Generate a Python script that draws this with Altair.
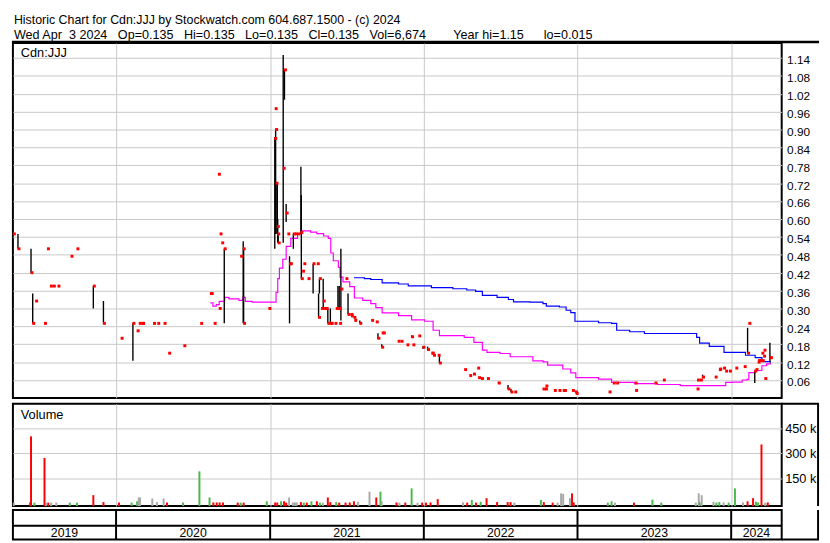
import altair as alt
import pandas as pd

FONT = "Liberation Sans"
NB = "\u00a0"

# ---------------- text ----------------
title_line1 = "Historic Chart for Cdn:JJJ by Stockwatch.com 604.687.1500 - (c) 2024"
title_fields = ["Wed Apr" + NB * 2 + "3 2024", "Op=0.135", "Hi=0.135", "Lo=0.135", "Cl=0.135", "Vol=6,674"]
title_line2a = (NB * 3).join(title_fields)
title_line2b = "Year hi=1.15"
title_line2c = "lo=0.015"
symbol_label = "Cdn:JJJ"
volume_label = "Volume"

# ---------------- daily prices (hi / lo / close) ----------------
price_dates = [
    "2019-05-02", "2019-05-13", "2019-06-13", "2019-06-17", "2019-06-24", "2019-07-15", "2019-07-22",
    "2019-07-29", "2019-08-05", "2019-08-16", "2019-09-16", "2019-09-30", "2019-11-08", "2019-12-02",
    "2020-01-13", "2020-02-10", "2020-02-20", "2020-02-25", "2020-03-02", "2020-03-04", "2020-03-30",
    "2020-04-09", "2020-04-24", "2020-05-05", "2020-06-10", "2020-07-20", "2020-08-12", "2020-08-14",
    "2020-08-21", "2020-08-31", "2020-09-02", "2020-09-04", "2020-09-08", "2020-09-14", "2020-10-23",
    "2020-10-29", "2020-10-30", "2020-12-29",
    "2021-01-12", "2021-01-13", "2021-01-14", "2021-01-15", "2021-01-18", "2021-01-19", "2021-01-20",
    "2021-02-01", "2021-02-04", "2021-02-08", "2021-02-12", "2021-02-16", "2021-02-18", "2021-02-25",
    "2021-03-02", "2021-03-08", "2021-03-15", "2021-03-16", "2021-03-19", "2021-03-22", "2021-04-01",
    "2021-04-13", "2021-04-23", "2021-04-26", "2021-04-28", "2021-05-03", "2021-05-07", "2021-05-10",
    "2021-05-14", "2021-05-18", "2021-05-24", "2021-05-26", "2021-06-04", "2021-06-07", "2021-06-11",
    "2021-06-14", "2021-06-15", "2021-06-18", "2021-06-30", "2021-07-05", "2021-07-12", "2021-07-13",
    "2021-07-19", "2021-07-21", "2021-08-02", "2021-08-30", "2021-09-10", "2021-09-14", "2021-09-23",
    "2021-09-24", "2021-09-27", "2021-11-01", "2021-11-08", "2021-11-22", "2021-12-03", "2021-12-06",
    "2021-12-20", "2021-12-30",
    "2022-01-10", "2022-01-20", "2022-01-21", "2022-01-24", "2022-02-04", "2022-02-07", "2022-04-08",
    "2022-04-20", "2022-04-29", "2022-05-09", "2022-05-11", "2022-05-18", "2022-06-01", "2022-06-27",
    "2022-07-20", "2022-07-27", "2022-08-05", "2022-10-11", "2022-10-17", "2022-10-18", "2022-11-07",
    "2022-11-18", "2022-11-28", "2022-12-01", "2022-12-20", "2022-12-27", "2022-12-29",
    "2023-03-17", "2023-03-27", "2023-04-04", "2023-05-18", "2023-05-19", "2023-07-04", "2023-07-24",
    "2023-10-12", "2023-10-13", "2023-10-20", "2023-10-25", "2023-11-24", "2023-12-04", "2023-12-05",
    "2023-12-14", "2023-12-19", "2023-12-28",
    "2024-01-12", "2024-02-01", "2024-02-09", "2024-02-12", "2024-02-26", "2024-02-29", "2024-03-05",
    "2024-03-06", "2024-03-08", "2024-03-14", "2024-03-15", "2024-03-18", "2024-03-19", "2024-03-21",
    "2024-04-02", "2024-04-03",
]
price_high = [
    0.55, 0.55, 0.50, 0.35, 0.325, 0.25, 0.50, 0.375, 0.375, 0.375, 0.475, 0.50, 0.375, 0.325,
    0.20, 0.25, 0.225, 0.25, 0.25, 0.25, 0.25, 0.25, 0.25, 0.15, 0.175, 0.25, 0.35, 0.35,
    0.25, 0.75, 0.30, 0.55, 0.52, 0.50, 0.475, 0.525, 0.50, 0.30,
    0.875, 0.97, 0.90, 0.72, 0.72, 0.60, 0.55, 1.15, 1.10, 0.65, 0.55, 0.475, 0.45, 0.55,
    0.55, 0.55, 0.775, 0.68, 0.425, 0.45, 0.40, 0.45, 0.45, 0.35, 0.40, 0.30, 0.40, 0.30,
    0.30, 0.30, 0.30, 0.25, 0.25, 0.30, 0.375, 0.375, 0.25, 0.50, 0.40, 0.35, 0.28, 0.275,
    0.27, 0.26, 0.26, 0.26, 0.255, 0.217, 0.18, 0.218, 0.218, 0.19, 0.19, 0.178, 0.21, 0.178,
    0.208, 0.173,
    0.172, 0.15, 0.15, 0.143, 0.143, 0.143, 0.095, 0.075, 0.08, 0.10, 0.068, 0.065, 0.065, 0.054,
    0.043, 0.03, 0.02, 0.03, 0.03, 0.04, 0.025, 0.025, 0.025, 0.025, 0.025, 0.02, 0.015,
    0.02, 0.05, 0.05, 0.05, 0.025, 0.05, 0.06, 0.03, 0.06, 0.06, 0.078, 0.07, 0.095, 0.097,
    0.10, 0.09, 0.09,
    0.10, 0.105, 0.235, 0.25, 0.09, 0.095, 0.12, 0.125, 0.125, 0.15, 0.125, 0.14, 0.16, 0.065,
    0.185, 0.135,
]
price_low = [
    0.55, 0.50, 0.42, 0.25, 0.325, 0.25, 0.50, 0.375, 0.375, 0.375, 0.475, 0.50, 0.30, 0.25,
    0.20, 0.125, 0.225, 0.25, 0.25, 0.25, 0.25, 0.25, 0.25, 0.15, 0.175, 0.25, 0.35, 0.35,
    0.25, 0.75, 0.30, 0.55, 0.52, 0.25, 0.475, 0.25, 0.25, 0.30,
    0.50, 0.97, 0.55, 0.55, 0.55, 0.52, 0.52, 0.52, 1.00, 0.59, 0.55, 0.25, 0.45, 0.50,
    0.55, 0.55, 0.55, 0.40, 0.425, 0.45, 0.40, 0.35, 0.45, 0.27, 0.35, 0.30, 0.30, 0.30,
    0.30, 0.25, 0.25, 0.25, 0.25, 0.30, 0.30, 0.30, 0.25, 0.26, 0.40, 0.28, 0.28, 0.275,
    0.27, 0.26, 0.25, 0.26, 0.255, 0.198, 0.17, 0.218, 0.218, 0.19, 0.19, 0.178, 0.203, 0.178,
    0.208, 0.165,
    0.16, 0.15, 0.15, 0.143, 0.143, 0.117, 0.095, 0.075, 0.08, 0.10, 0.068, 0.065, 0.065, 0.049,
    0.03, 0.02, 0.02, 0.03, 0.03, 0.04, 0.025, 0.025, 0.025, 0.025, 0.025, 0.02, 0.015,
    0.02, 0.05, 0.05, 0.05, 0.025, 0.05, 0.06, 0.03, 0.06, 0.06, 0.067, 0.07, 0.095, 0.097,
    0.10, 0.09, 0.09,
    0.10, 0.105, 0.15, 0.25, 0.05, 0.095, 0.12, 0.125, 0.125, 0.15, 0.125, 0.14, 0.16, 0.065,
    0.12, 0.135,
]
price_close = [
    0.55, 0.50, 0.42, 0.25, 0.325, 0.25, 0.50, 0.375, 0.375, 0.375, 0.475, 0.50, 0.375, 0.25,
    0.20, 0.25, 0.225, 0.25, 0.25, 0.25, 0.25, 0.25, 0.25, 0.15, 0.175, 0.25, 0.35, 0.35,
    0.25, 0.75, 0.30, 0.55, 0.52, 0.50, 0.475, 0.50, 0.25, 0.30,
    0.87, 0.97, 0.90, 0.72, 0.575, 0.55, 0.52, 0.77, 1.10, 0.62, 0.55, 0.45, 0.45, 0.55,
    0.55, 0.55, 0.555, 0.40, 0.425, 0.45, 0.40, 0.45, 0.45, 0.27, 0.40, 0.30, 0.325, 0.30,
    0.30, 0.25, 0.25, 0.25, 0.25, 0.30, 0.30, 0.30, 0.25, 0.365, 0.40, 0.28, 0.28, 0.275,
    0.27, 0.26, 0.25, 0.26, 0.255, 0.20, 0.17, 0.218, 0.218, 0.19, 0.19, 0.178, 0.205, 0.178,
    0.208, 0.17,
    0.162, 0.15, 0.15, 0.143, 0.143, 0.117, 0.095, 0.075, 0.08, 0.10, 0.068, 0.065, 0.065, 0.05,
    0.03, 0.02, 0.02, 0.03, 0.03, 0.04, 0.025, 0.025, 0.025, 0.025, 0.025, 0.02, 0.015,
    0.02, 0.05, 0.05, 0.05, 0.025, 0.05, 0.06, 0.03, 0.06, 0.06, 0.07, 0.07, 0.095, 0.097,
    0.10, 0.09, 0.09,
    0.10, 0.105, 0.15, 0.25, 0.09, 0.095, 0.12, 0.125, 0.125, 0.15, 0.125, 0.14, 0.16, 0.065,
    0.135, 0.135,
]

# ---------------- moving averages ----------------
ma_short_dates = [
    "2020-08-12", "2020-08-18", "2020-08-26", "2020-09-02", "2020-09-15", "2020-09-25", "2020-10-19",
    "2020-10-28", "2020-11-03", "2020-11-19", "2020-12-27", "2021-01-15", "2021-01-19", "2021-01-23",
    "2021-01-31", "2021-02-08", "2021-02-19", "2021-03-07", "2021-03-18", "2021-04-07", "2021-04-22",
    "2021-05-08", "2021-05-19", "2021-05-25", "2021-05-31", "2021-06-12", "2021-06-16", "2021-06-23",
    "2021-07-09", "2021-07-20", "2021-08-09", "2021-08-28", "2021-09-09", "2021-09-24", "2021-11-02",
    "2021-12-03", "2022-01-03", "2022-01-23", "2022-02-07", "2022-04-07", "2022-04-30", "2022-05-20",
    "2022-05-31", "2022-07-01", "2022-07-25", "2022-09-17", "2022-10-11", "2022-10-22", "2022-11-27",
    "2022-12-16", "2022-12-28", "2023-02-20", "2023-03-23", "2023-05-16", "2023-07-10", "2023-09-02",
    "2023-12-04", "2023-12-19", "2024-01-04", "2024-01-27", "2024-02-08", "2024-02-12", "2024-02-27",
    "2024-03-14", "2024-03-25", "2024-04-03",
]
ma_short_values = [
    0.319, 0.308, 0.313, 0.324, 0.337, 0.332, 0.327, 0.337, 0.324, 0.321, 0.321, 0.354, 0.40, 0.435,
    0.465, 0.508, 0.535, 0.551, 0.56, 0.556, 0.551, 0.543, 0.535, 0.486, 0.46, 0.438, 0.405, 0.389,
    0.373, 0.335, 0.327, 0.316, 0.303, 0.285, 0.276, 0.262, 0.257, 0.227, 0.209, 0.203, 0.186, 0.16,
    0.153, 0.149, 0.138, 0.124, 0.121, 0.11, 0.097, 0.084, 0.068, 0.063, 0.052, 0.048, 0.045, 0.041,
    0.041, 0.052, 0.053, 0.06, 0.062, 0.085, 0.092, 0.108, 0.114, 0.119,
]
ma_long_dates = [
    "2021-07-19", "2021-08-13", "2021-08-28", "2021-09-24", "2021-11-02", "2021-11-25", "2022-01-19",
    "2022-03-11", "2022-04-13", "2022-05-04", "2022-05-20", "2022-06-24", "2022-07-21", "2022-08-02",
    "2022-09-10", "2022-10-11", "2022-10-19", "2022-11-19", "2022-12-05", "2022-12-16", "2022-12-26",
    "2023-02-20", "2023-03-23", "2023-04-04", "2023-05-05", "2023-06-09", "2023-10-11", "2023-10-18",
    "2023-11-10", "2023-12-15", "2024-02-04", "2024-02-27", "2024-03-14", "2024-04-03",
]
ma_long_values = [
    0.403, 0.40, 0.397, 0.386, 0.382, 0.376, 0.37, 0.366, 0.362, 0.357, 0.344, 0.337, 0.33, 0.322,
    0.321, 0.316, 0.308, 0.305, 0.294, 0.286, 0.257, 0.252, 0.25, 0.227, 0.222, 0.216, 0.203, 0.184,
    0.173, 0.153, 0.143, 0.135, 0.122, 0.119,
]

# ---------------- volume ----------------
vol_dates = [
    "2019-05-03", "2019-06-11", "2019-06-13", "2019-06-21", "2019-07-15", "2019-07-19", "2019-07-24",
    "2019-07-31", "2019-08-12", "2019-09-13", "2019-09-30", "2019-11-08", "2019-12-02",
    "2020-01-08", "2020-02-07", "2020-02-20", "2020-02-24", "2020-02-27", "2020-03-27", "2020-04-07",
    "2020-04-23", "2020-05-01", "2020-06-08", "2020-07-17", "2020-08-10", "2020-08-19", "2020-08-27",
    "2020-09-03", "2020-09-11", "2020-10-16", "2020-10-23", "2020-10-30", "2020-12-24",
    "2021-01-13", "2021-01-18", "2021-01-27", "2021-02-03", "2021-02-08", "2021-02-15", "2021-02-24",
    "2021-03-01", "2021-03-05", "2021-03-15", "2021-03-22", "2021-03-29", "2021-04-09", "2021-04-22",
    "2021-04-29", "2021-05-06", "2021-05-18", "2021-05-24", "2021-06-07", "2021-06-14", "2021-06-29",
    "2021-07-09", "2021-07-19", "2021-07-29", "2021-08-25", "2021-09-10", "2021-09-20", "2021-09-23",
    "2021-10-28", "2021-11-04", "2021-11-18", "2021-12-03", "2021-12-17", "2021-12-28",
    "2022-01-06", "2022-01-17", "2022-02-03", "2022-04-04", "2022-04-14", "2022-04-25", "2022-05-05",
    "2022-05-16", "2022-05-30", "2022-06-24", "2022-07-19", "2022-07-26", "2022-08-04", "2022-10-06",
    "2022-10-13", "2022-11-03", "2022-11-15", "2022-11-23", "2022-11-28", "2022-12-14", "2022-12-19",
    "2022-12-23",
    "2023-03-14", "2023-03-23", "2023-03-31", "2023-05-15", "2023-06-28", "2023-07-19", "2023-10-09",
    "2023-10-16", "2023-10-18", "2023-10-23", "2023-11-20", "2023-11-27", "2023-12-04", "2023-12-14",
    "2023-12-26",
    "2024-01-10", "2024-01-29", "2024-02-09", "2024-02-22", "2024-02-29", "2024-03-05", "2024-03-13",
    "2024-03-22", "2024-03-28",
]
vol_values = [
    2000, 3000, 403000, 2000, 272000, 2000, 2000, 2000, 2000, 2000, 2000, 47000, 5000,
    2000, 2000, 10000, 33000, 33000, 27000, 5000, 27000, 2000, 2000, 191000, 33000, 3000, 3000,
    3000, 3000, 2000, 2000, 2000, 10000,
    3000, 2000, 10000, 10000, 2000, 33000, 3000, 3000, 3000, 5000, 2000, 2000, 10000, 10000,
    2000, 2000, 33000, 5000, 5000, 2000, 2000, 3000, 10000, 7000, 68000, 33000, 68000, 10000,
    3000, 2000, 2000, 88000, 1000, 2000,
    2000, 3000, 23000, 3000, 2000, 18000, 2000, 7000, 29000, 5000, 5000, 5000, 2000, 18000,
    5000, 2000, 2000, 58000, 55000, 29000, 58000, 3000,
    2000, 10000, 2000, 2000, 20000, 2000, 2000, 58000, 5000, 47000, 7000, 2000, 5000, 3000,
    2000,
    88000, 3000, 10000, 29000, 7000, 3000, 354000, 2000, 3000,
]
vol_direction = [
    "flat", "down", "down", "up", "down", "flat", "down", "flat", "flat", "up", "up", "down", "down",
    "down", "up", "up", "flat", "flat", "flat", "flat", "flat", "down", "up", "up", "up", "down", "down",
    "down", "down", "down", "up", "down", "up",
    "down", "down", "up", "down", "down", "flat", "flat", "flat", "flat", "down", "up", "down", "up",
    "down", "up", "flat", "down", "down", "up", "down", "down", "down", "down", "flat", "flat", "down",
    "up", "flat", "down", "flat", "down", "up", "flat", "down",
    "down", "down", "down", "flat", "down", "up", "down", "up", "down", "down", "down", "down", "flat",
    "up", "down", "down", "flat", "flat", "flat", "flat", "down", "down",
    "up", "up", "flat", "down", "up", "up", "flat", "flat", "up", "flat", "flat", "up", "up", "flat",
    "up",
    "up", "flat", "down", "down", "up", "up", "down", "flat", "down",
]

# ---------------- axes ----------------
price_ticks = [0.06, 0.12, 0.18, 0.24, 0.30, 0.36, 0.42, 0.48, 0.54, 0.60, 0.66, 0.72, 0.78,
               0.84, 0.90, 0.96, 1.02, 1.08, 1.14]
volume_ticks = [150000, 300000, 450000]
years = [2019, 2020, 2021, 2022, 2023, 2024]
x_start, x_end = "2019-05-01", "2024-04-30"

# ---------------- layout / style ----------------
W, HP, HV, HB = 782, 361, 104, 30
RX = W + 37                      # right frame of the label column
GRID = "#c8c8c8"
RED, GREEN, GREY = "#ff0000", "#4cb84c", "#a8a8a8"

price_df = pd.DataFrame({"date": pd.to_datetime(price_dates), "high": price_high,
                         "low": price_low, "close": price_close})
ma_short_df = pd.DataFrame({"date": pd.to_datetime(ma_short_dates), "ma": ma_short_values})
ma_long_df = pd.DataFrame({"date": pd.to_datetime(ma_long_dates), "ma": ma_long_values})
vol_df = pd.DataFrame({"date": pd.to_datetime(vol_dates), "volume": vol_values, "dir": vol_direction})

t0, t1 = pd.Timestamp(x_start), pd.Timestamp(x_end)
bounds_df = pd.DataFrame({"date": [pd.Timestamp(f"{y}-01-01") for y in years[1:]]})
mids = []
for y in years:
    a = max(pd.Timestamp(f"{y}-01-01"), t0)
    b = min(pd.Timestamp(f"{y + 1}-01-01"), t1)
    mids.append(a + (b - a) / 2)
years_df = pd.DataFrame({"year": [str(y) for y in years], "mid": mids})

x_domain = [alt.DateTime(year=2019, month=5, date=1), alt.DateTime(year=2024, month=4, date=30)]
x_scale = alt.Scale(domain=x_domain)
x_grid_axis = alt.Axis(values=[alt.DateTime(year=y, month=1, date=1) for y in years[1:]],
                       labels=False, ticks=False, domain=False, grid=True, gridColor=GRID,
                       gridWidth=1, title=None, tickCount=20)
one = pd.DataFrame({"k": [0]})


def text_layer(txt, x, y, size=13, align="left", baseline="middle"):
    return alt.Chart(pd.DataFrame({"t": [txt]})).mark_text(
        align=align, baseline=baseline, font=FONT, fontSize=size, color="black").encode(
        x=alt.value(x), y=alt.value(y), text="t:N")


# ---- price panel ----
y_price = alt.Scale(domain=[0, 1.19], nice=False, zero=False)
price_axis = alt.Axis(orient="right", values=price_ticks, format=".2f", grid=True, gridColor=GRID,
                      ticks=False, domain=False, title=None, labelPadding=5, labelOffset=2,
                      tickCount=60, labelOverlap=False, labelFontSize=12)

hilo = alt.Chart(price_df).mark_rule(color="black", strokeWidth=1.4).encode(
    x=alt.X("date:T", scale=x_scale, axis=x_grid_axis),
    y=alt.Y("high:Q", scale=y_price, axis=price_axis),
    y2="low:Q",
)
closes = alt.Chart(price_df).mark_square(color=RED, size=9, opacity=1, xOffset=1).encode(
    x="date:T", y="close:Q")
ma_short = alt.Chart(ma_short_df).mark_line(color="#ff00ff", strokeWidth=1.2, interpolate="step-after").encode(
    x="date:T", y="ma:Q")
ma_long = alt.Chart(ma_long_df).mark_line(color="#0000ff", strokeWidth=1.2, interpolate="step-after").encode(
    x="date:T", y="ma:Q")
top_line = alt.Chart(one).mark_rule(color="black", strokeWidth=2.5).encode(
    x=alt.value(-1), x2=alt.value(RX + 1), y=alt.value(-1))

header = [
    text_layer(title_line1, 1, -19.5, size=12.6, baseline="alphabetic"),
    text_layer(title_line2a, 1, -4.5, size=12.8, baseline="alphabetic"),
    text_layer(title_line2b, 448, -4.5, size=12.8, baseline="alphabetic"),
    text_layer(title_line2c, 540, -4.5, size=12.8, baseline="alphabetic"),
]

price = alt.layer(
    ma_short, ma_long, hilo, closes,
    text_layer(symbol_label, 8, 10),
    *header,
    top_line,
).properties(width=W, height=HP)

# ---- volume panel ----
vol_scale = alt.Scale(domain=[-19000, 600000], nice=False, zero=False)
vol_axis = alt.Axis(orient="right", values=volume_ticks, grid=True, gridColor=GRID, ticks=False,
                    domain=False, title=None, labelPadding=3, labelFontSize=13, tickCount=20,
                    labelOverlap=False, labelExpr="format(datum.value / 1000, 'd') + ' k'")
bars = alt.Chart(vol_df).mark_rule(strokeWidth=2).encode(
    x=alt.X("date:T", scale=x_scale, axis=x_grid_axis),
    y=alt.Y("volume:Q", scale=vol_scale, axis=vol_axis),
    y2=alt.value(HV),
    color=alt.Color("dir:N", scale=alt.Scale(domain=["down", "up", "flat"], range=[RED, GREEN, GREY]),
                    legend=None),
)
vol_top = alt.Chart(one).mark_rule(color="black", strokeWidth=2).encode(
    x=alt.value(W), x2=alt.value(RX + 1), y=alt.value(0))
vol_right = alt.Chart(one).mark_rule(color="black", strokeWidth=2).encode(
    x=alt.value(RX), y=alt.value(0), y2=alt.value(HV))
volume = alt.layer(bars, text_layer(volume_label, 8, 11), vol_top, vol_right).properties(width=W, height=HV)

# ---- year band ----
year_lines = alt.Chart(bounds_df).mark_rule(color="black", strokeWidth=2).encode(
    x=alt.X("date:T", scale=x_scale, axis=None), y=alt.value(0), y2=alt.value(HB))
mid_line = alt.Chart(one).mark_rule(color="black", strokeWidth=2).encode(
    x=alt.value(0), x2=alt.value(W), y=alt.value(16))
year_text = alt.Chart(years_df).mark_text(font=FONT, fontSize=12.5, color="black", baseline="middle").encode(
    x=alt.X("mid:T", scale=x_scale, axis=None), y=alt.value(23.5), text="year:N")
band_bottom = alt.Chart(one).mark_rule(color="black", strokeWidth=2).encode(
    x=alt.value(W), x2=alt.value(RX + 1), y=alt.value(HB))
band_right = alt.Chart(one).mark_rule(color="black", strokeWidth=2).encode(
    x=alt.value(RX), y=alt.value(0), y2=alt.value(HB))
band = alt.layer(year_lines, mid_line, year_text, band_bottom, band_right).properties(width=W, height=HB)

chart = alt.vconcat(
    price,
    alt.vconcat(volume, band, spacing=0),
    spacing=3,
).properties(
    padding={"left": 1, "top": 0, "right": 0, "bottom": 1},
    background="white",
).configure_view(
    stroke="black", strokeWidth=2
).configure_axis(
    labelFont=FONT, labelFontSize=12, labelColor="black"
)

chart.save("out.html", embed_options={"renderer": "svg", "actions": False})
